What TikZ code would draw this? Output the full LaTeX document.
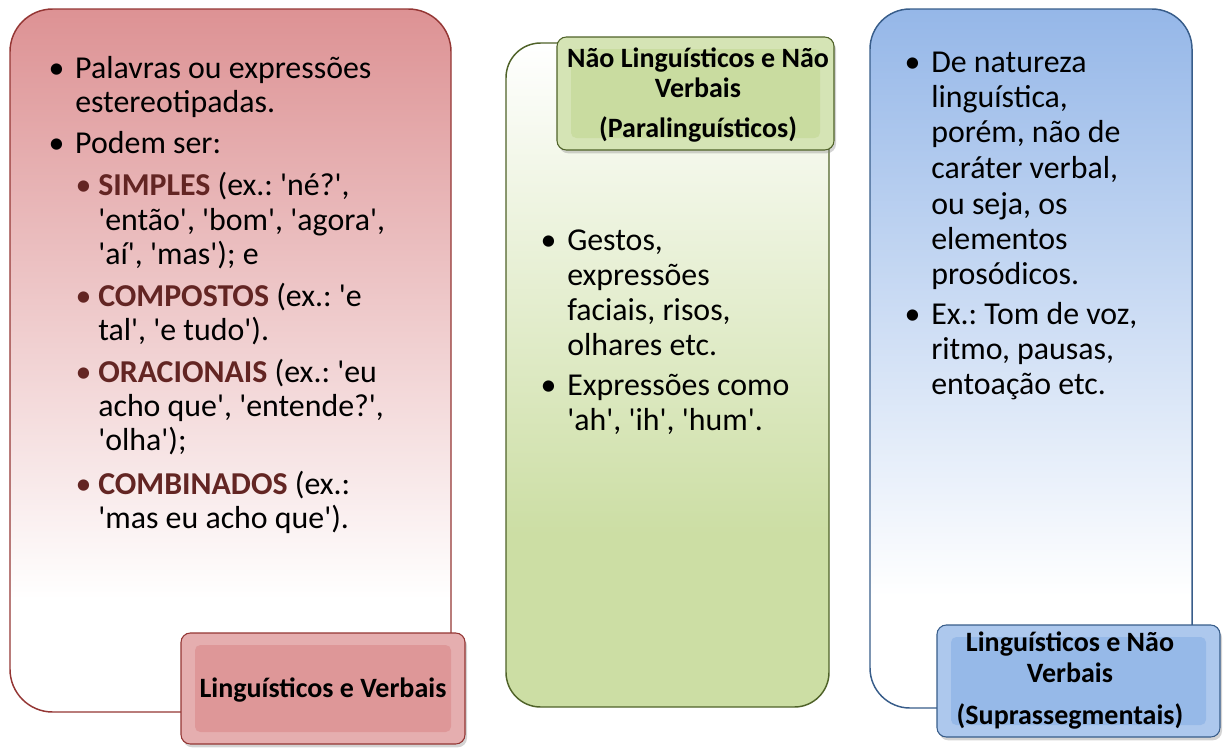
\documentclass[tikz,border=0pt]{standalone}
\usepackage{fontspec}
\setmainfont{Carlito}[Ligatures=TeXOff]
\usetikzlibrary{shadows}
\frenchspacing

\definecolor{redtop}{RGB}{221,146,148}
\definecolor{redline}{RGB}{148,54,52}
\definecolor{redbox}{RGB}{222,151,152}
\definecolor{redword}{RGB}{99,37,35}
\definecolor{greenbot}{RGB}{204,222,164}
\definecolor{greenline}{RGB}{79,98,40}
\definecolor{greenbox}{RGB}{201,220,160}
\definecolor{bluetop}{RGB}{149,183,232}
\definecolor{blueline}{RGB}{56,93,138}
\definecolor{bluebox}{RGB}{150,185,232}

\pgfdeclareverticalshading{redfade}{100bp}{color(0bp)=(white); color(33bp)=(white); color(75bp)=(redtop); color(100bp)=(redtop)}
\pgfdeclareverticalshading{greenfade}{100bp}{color(0bp)=(greenbot); color(38bp)=(greenbot); color(75bp)=(white); color(100bp)=(white)}
\pgfdeclareverticalshading{bluefade}{100bp}{color(0bp)=(white); color(33bp)=(white); color(75bp)=(bluetop); color(100bp)=(bluetop)}

\def\blt{\llap{\textbullet\hspace{8pt}}}
\def\sblt{\llap{\textcolor{redword}{\textbullet}\hspace{5pt}}}
\def\kw#1{\textbf{\textcolor{redword}{#1}}}

\tikzset{
	txt/.style={anchor=base west, inner sep=0pt, font=\fontsize{23.9}{26}\selectfont},
	lbl/.style={anchor=base, inner sep=0pt, font=\fontsize{21}{23}\selectfont\bfseries},
	panel/.style={line width=1.1pt, rounded corners=32pt},
	tabbox/.style={line width=0.8pt, rounded corners=7pt, drop shadow={shadow xshift=1.5pt, shadow yshift=-2.5pt, opacity=0.35}},
}

\begin{document}
\begin{tikzpicture}[x=0.75pt, y=-0.75pt]
			%%%%% START %%%%%
			\useasboundingbox (0, 0) rectangle (1227, 747);
			
			% left panel
			\draw[panel, draw=redline, shading=redfade] (10, 9) rectangle (451, 712);
			\draw[tabbox, draw=redline, fill=redbox!78!white] (181, 633) rectangle (465, 744);
			\fill[redbox, rounded corners=4pt] (195, 645) rectangle (451, 732);
			
			\node[txt] (pal1) at (75, 78) {\blt Palavras ou expressões};
			\node[txt] (pal2) at (75, 112) {estereotipadas.};
			\node[txt] (pod) at (75, 153) {\blt Podem ser:};
			\node[txt] (sim1) at (98, 195) {\sblt\kw{SIMPLES} (ex.: 'né?',};
			\node[txt] (sim2) at (98, 230) {'então', 'bom', 'agora',};
			\node[txt] (sim3) at (98, 264) {'aí', 'mas'); e};
			\node[txt] (com1) at (98, 306) {\sblt\kw{COMPOSTOS} (ex.: 'e};
			\node[txt] (com2) at (98, 340) {tal', 'e tudo').};
			\node[txt] (ora1) at (98, 382) {\sblt\kw{ORACIONAIS} (ex.: 'eu};
			\node[txt] (ora2) at (98, 416) {acho que', 'entende?',};
			\node[txt] (ora3) at (98, 450) {'olha');};
			\node[txt] (cmb1) at (98, 494) {\sblt\kw{COMBINADOS} (ex.:};
			\node[txt] (cmb2) at (98, 528) {'mas eu acho que').};
			
			\node[lbl] (verb) at (323, 697) {Linguísticos e Verbais};
			
			% middle panel
			\draw[panel, rounded corners=26pt, draw=greenline, shading=greenfade] (506, 43) rectangle (829, 707);
			\draw[tabbox, draw=greenline, fill=greenbox!78!white] (557, 37) rectangle (834, 150);
			\fill[greenbox, rounded corners=4pt] (571, 49) rectangle (820, 138);
			
			\node[lbl] (nln1) at (698, 67) {Não Linguísticos e Não};
			\node[lbl] (nln2) at (698, 97) {Verbais};
			\node[lbl] (nln3) at (698, 137) {(Paralinguísticos)};
			
			\node[txt] (ges1) at (567, 250) {\blt Gestos,};
			\node[txt] (ges2) at (567, 285) {expressões};
			\node[txt] (ges3) at (567, 320) {faciais, risos,};
			\node[txt] (ges4) at (567, 355) {olhares etc.};
			\node[txt] (exp1) at (567, 395) {\blt Expressões como};
			\node[txt] (exp2) at (567, 430) {'ah', 'ih', 'hum'.};
			
			% right panel
			\draw[panel, rounded corners=30pt, draw=blueline, shading=bluefade] (870, 9) rectangle (1192, 708);
			\draw[tabbox, draw=blueline, fill=bluebox!78!white] (937, 625) rectangle (1220, 737);
			\fill[bluebox, rounded corners=4pt] (951, 637) rectangle (1206, 725);
			
			\node[txt] (nat1) at (931, 72) {\blt De natureza};
			\node[txt] (nat2) at (931, 107) {linguística,};
			\node[txt] (nat3) at (931, 142) {porém, não de};
			\node[txt] (nat4) at (931, 178) {caráter verbal,};
			\node[txt] (nat5) at (931, 214) {ou seja, os};
			\node[txt] (nat6) at (931, 249) {elementos};
			\node[txt] (nat7) at (931, 284) {prosódicos.};
			\node[txt] (tom1) at (931, 324) {\blt Ex.: Tom de voz,};
			\node[txt] (tom2) at (931, 359) {ritmo, pausas,};
			\node[txt] (tom3) at (931, 394) {entoação etc.};
			
			\node[lbl] (lnv1) at (1070, 651) {Linguísticos e Não};
			\node[lbl] (lnv2) at (1070, 682) {Verbais};
			\node[lbl] (lnv3) at (1070, 724) {(Suprassegmentais)};
			
			%%%%% END %%%%%
\end{tikzpicture}
\end{document}
